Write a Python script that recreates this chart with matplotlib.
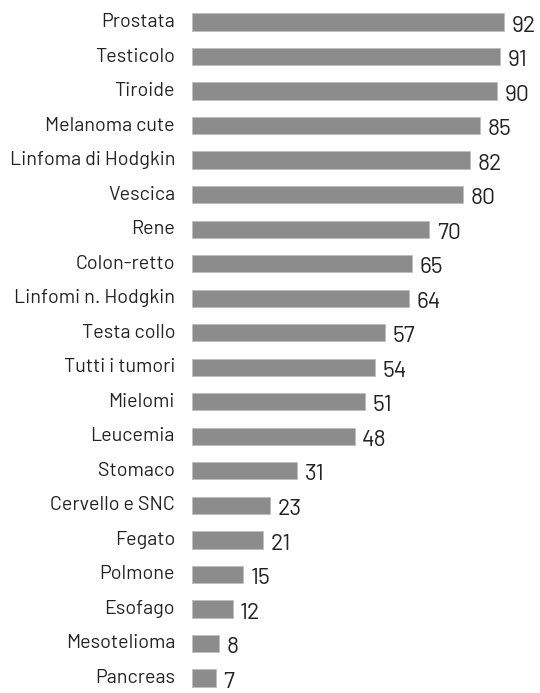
import matplotlib.pyplot as plt

# sopravvivenza a 5 anni (%)
tumori = ['Prostata', 'Testicolo', 'Tiroide', 'Melanoma cute', 'Linfoma di Hodgkin',
          'Vescica', 'Rene', 'Colon-retto', 'Linfomi n. Hodgkin', 'Testa collo',
          'Tutti i tumori', 'Mielomi', 'Leucemia', 'Stomaco', 'Cervello e SNC',
          'Fegato', 'Polmone', 'Esofago', 'Mesotelioma', 'Pancreas']
valori = [92, 91, 90, 85, 82, 80, 70, 65, 64, 57, 54, 51, 48, 31, 23, 21, 15, 12, 8, 7]

plt.rcParams['font.family'] = ['Barlow', 'DejaVu Sans']

fig = plt.figure(figsize=(5.4, 6.93), dpi=100)
ax = fig.add_axes([192/540, 0, 1 - 192/540, 1])

pos = list(range(len(tumori)))
ax.barh(pos, valori, height=0.5, color='#8c8c8c', edgecolor='#bdbdbd', linewidth=0.6)

for p, v in zip(pos, valori):
    ax.text(v + 2.2, p + 0.12, str(v), va='center', ha='left', fontsize=16.5, color='#222222')
    ax.annotate(tumori[p], xy=(0, p), xytext=(-17, 0), textcoords='offset pixels',
                va='center', ha='right', fontsize=14.2, color='#222222',
                annotation_clip=False)

ax.set_xlim(0, (540 - 192) / 3.39)
ax.set_ylim(19 + 15/34.53, -22/34.53)
ax.axis('off')

fig.savefig('out.png', dpi=100)
